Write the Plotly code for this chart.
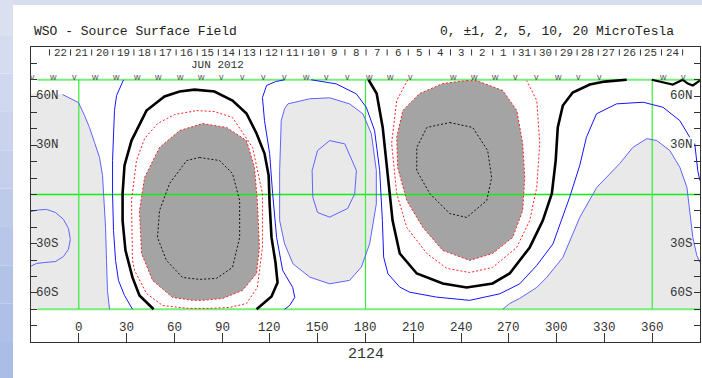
import plotly.graph_objects as go

# ---------------- data (longitude deg, latitude deg) ----------------
title_text = "WSO - Source Surface Field"
levels_text = "0, ±1, 2, 5, 10, 20 MicroTesla"
rotation_label = "2124"
month_label = "JUN 2012"

date_labels = ["22", "21", "20", "19", "18", "17", "16", "15", "14", "13", "12",
               "11", "10", "9", "8", "7", "6", "5", "4", "3", "2", "1",
               "31", "30", "29", "28", "27", "26", "25", "24"]
date_start_lon = -18.4
date_step = 13.25

markers = ["V", "W", "V", "W", "W", "W", "W", "W", "W", "V", "V", "V", "V", "W", "V", "V",
           "W", "W", "V", "", "W", "W", "W", "V", "V", "W", "V", "V", "", "", "W", "V"]
marker_start_lon = -29.1
marker_step = 13.19

lon_ticks = [0, 30, 60, 90, 120, 150, 180, 210, 240, 270, 300, 330, 360]
lat_ticks = [60, 30, -30, -60]
lat_labels = ["60N", "30N", "30S", "60S"]

# light-grey region, left edge
grey_left = [(-30, 61.6), (-10.2, 61.0), (-4.6, 58.5), (-0.2, 56.1), (3.6, 48.2), (6.7, 40.9),
             (9.9, 31.7), (13.0, 22.6), (14.9, 11.6), (15.5, 0.6), (16.8, -20.1), (17.4, -40.3),
             (18.0, -58.5), (19.3, -70), (-30, -70)]
circle_left = [(-30.3, -10.4), (-25.9, -9.5), (-20.3, -9.1), (-14.6, -11.0), (-9.6, -15.2),
               (-6.5, -20.7), (-5.3, -27.4), (-6.5, -33.5), (-9.6, -37.8), (-14.6, -40.9),
               (-21.5, -41.5), (-26.6, -42.1), (-30.3, -43.9)]
# light-grey region, middle
grey_mid = [(131.3, 55.3), (145.0, 58.4), (157.5, 59.0), (170.0, 55.3), (178.4, 49.2),
            (183.7, 37.0), (186.8, 14.6), (186.8, -5.7), (182.6, -30.1), (177.4, -44.3),
            (170.0, -52.4), (157.5, -54.5), (145.0, -50.4), (134.5, -42.3), (129.2, -30.1),
            (126.1, -15.9), (126.1, 14.6), (127.1, 45.1), (129.2, 52.3), (131.3, 55.3)]
oval_mid = [(157.5, 32.9), (167.0, 30.9), (174.3, 14.6), (173.2, 0.4), (168.8, -8.5),
            (157.5, -13.8), (149.9, -11.0), (146.9, -1.6), (146.5, 14.6), (149.9, 26.8),
            (157.5, 32.9)]
# light-grey region, right
grey_right = [(266.2, -70), (270.5, -66.5), (276.8, -63.4), (287.5, -56.7), (293.8, -50.6),
              (303.9, -38.4), (314.5, -14.0), (325.2, 4.3), (339.6, 18.9), (347.8, 28.7),
              (356.6, 34.1), (362.9, 32.9), (371.1, 26.8), (377.4, 16.5), (381.8, 4.3),
              (383.6, -9.8), (385.5, -26.2), (388.0, -37.2), (390, -41.5), (390, -70)]

# blue contours
blue_a = [(28.1, 70), (23.7, 60.4), (22.4, 51.2), (21.8, 39.0), (21.2, 20.7), (21.2, 0.6),
          (21.8, -22.0), (23.1, -40.3), (24.9, -52.4), (28.7, -61.6), (33.7, -70)]
blue_b = [(129.2, 70), (123.5, 68.9), (117.9, 66.5), (115.3, 59.2), (116.6, 45.1), (119.8, 25.0),
          (121.7, 0.6), (124.2, -26.2), (128.0, -46.3), (134.3, -56.7), (135.6, -62.8),
          (132.4, -67.7), (129.2, -70)]
blue_c = [(145.9, 70), (161.7, 67.5), (174.2, 61.4), (180.5, 53.2), (185.7, 39.0), (188.9, 14.6),
          (190.6, -15.9), (191.4, -38.2), (194.1, -48.4), (201.5, -56.5), (207.7, -59.6),
          (224.5, -62.6), (245.4, -64.6), (264.3, -60.6), (276.8, -54.5), (287.5, -43.3),
          (297.7, -30.1), (308.2, -1.6), (314.5, 17.7), (318.7, 34.9), (325.0, 49.2),
          (337.6, 55.3), (354.3, 56.3), (366.8, 53.2), (377.3, 45.1), (383.6, 34.9)]
blue_d = [(386.7, 31.1), (388.6, 14.6), (389.9, 8.5)]

# neutral line (0)
neutral_a = [(47.0, -70), (38.1, -61.6), (33.7, -50.6), (29.3, -34.1), (27.5, -15.9), (27.5, 0.6),
             (28.7, 17.7), (33.1, 32.9), (42.5, 51.2), (53.8, 59.8), (63.3, 62.8), (72.7, 64.0),
             (85.2, 62.8), (96.5, 57.3), (105.3, 49.4), (111.6, 37.2), (116.6, 25.0),
             (119.2, 11.6), (119.8, -5.5), (121.0, -26.2), (123.5, -41.5), (124.8, -53.7),
             (121.0, -62.2), (111.6, -70)]
neutral_b = [(181.9, 70), (187.0, 61.6), (190.8, 40.9), (193.9, 10.4), (197.0, -15.9),
             (201.5, -36.0), (212.2, -48.2), (228.5, -54.3), (243.5, -56.7), (259.8, -54.3),
             (270.5, -48.2), (283.1, -32.3), (291.3, -15.9), (297.0, 0.6), (299.4, 20.7),
             (300.7, 40.9), (303.9, 54.3), (310.1, 62.2), (320.8, 67.1), (330.2, 68.9), (344.0, 70)]
neutral_c = [(359.7, 70), (366.6, 68.3), (372.9, 67.1), (379.2, 70), (382.3, 67.7),
             (385.5, 66.5), (389.9, 69.5)]

# red dotted (outer strong-field) contours
red_a = [(74.0, 51.2), (85.2, 50.6), (96.5, 47.0), (109.1, 28.7), (115.3, 0.6), (115.3, -32.3),
         (112.1, -56.7), (105.3, -66.5), (94.7, -68.9), (82.1, -69.5), (68.3, -69.5),
         (52.6, -67.7), (42.5, -60.4), (35.0, -46.3), (33.7, -40.2), (33.1, -3.7), (36.2, 20.7),
         (41.3, 34.1), (49.5, 43.3), (60.1, 48.8), (74.0, 51.2)]
red_b = [(206.5, 70), (199.6, 57.3), (196.4, 31.1), (199.6, 0.6), (205.9, -20.1), (218.5, -36.0),
         (231.1, -45.1), (245.4, -47.6), (259.8, -44.5), (274.9, -32.3), (283.1, -15.9),
         (287.5, 4.3), (289.4, 31.1), (287.5, 57.3), (281.2, 69.5)]

# dark-grey cores
core_a = [(77.7, 43.3), (92.8, 40.9), (105.3, 32.9), (110.3, 16.5), (112.1, -3.7), (113.4, -32.3),
          (111.6, -48.2), (102.8, -58.5), (90.3, -63.4), (77.7, -64.6), (71.4, -64.6),
          (58.9, -62.8), (46.3, -52.4), (39.4, -36.0), (38.1, -9.8), (41.3, 10.4), (50.7, 28.7),
          (63.3, 39.0), (77.7, 43.3)]
core_b = [(243.5, 69.5), (249.8, 69.5), (266.2, 63.4), (275.0, 51.2), (278.7, 31.1), (280.0, 10.4),
          (278.7, -9.8), (272.4, -26.2), (259.8, -36.0), (245.4, -40.2), (228.5, -34.1),
          (216.0, -20.1), (205.9, -3.7), (200.2, 16.5), (199.6, 34.8), (203.4, 51.2),
          (214.0, 61.6), (228.5, 67.7), (243.5, 69.5)]

# innermost dotted black contours
inner_a = [(75.8, 22.6), (88.4, 20.7), (96.5, 12.8), (101.0, -3.7), (101.0, -26.2), (96.5, -44.5),
           (86.4, -51.2), (75.8, -51.8), (65.1, -50.6), (55.0, -40.2), (49.4, -26.2),
           (50.7, -9.8), (57.0, 6.7), (67.7, 20.7), (75.8, 22.6)]
inner_b = [(232.9, 43.9), (247.3, 40.9), (256.7, 26.8), (259.2, 10.4), (256.1, -3.7),
           (243.5, -14.0), (232.9, -11.6), (220.3, 0.6), (212.2, 14.6), (212.2, 28.7),
           (218.5, 40.9), (232.9, 43.9)]

# ---------------- figure ----------------
LIGHT = "#e9e9e9"
DARK = "#a4a4a4"
BLUE = "#1414ff"
LBLUE = "#6262ff"
GREEN = "#33ee33"
MONO = "Liberation Mono"

fig = go.Figure()


def xs(pts):
    return [p[0] for p in pts]


def ys(pts):
    return [p[1] for p in pts]


def fill(pts, color):
    fig.add_trace(go.Scatter(x=xs(pts), y=ys(pts), mode="lines", fill="toself",
                             fillcolor=color, line=dict(width=0), hoverinfo="skip"))


def line(pts, color, width=1.0, dash="solid"):
    fig.add_trace(go.Scatter(x=xs(pts), y=ys(pts), mode="lines",
                             line=dict(color=color, width=width, dash=dash),
                             hoverinfo="skip"))


fill(grey_left, LIGHT)
fill(grey_mid, LIGHT)
fill(grey_right, LIGHT)
fill(core_a, DARK)
fill(core_b, DARK)

# green reference lines
line([(-26, 70), (390, 70)], "#77ee77", 2)
line([(-26, -70), (390, -70)], "#77ee77", 2)
line([(-30, 0), (390, 0)], "#11ee11", 1.5)
for lon in [0, 180, 360]:
    line([(lon, -70), (lon, 70)], GREEN, 1.2)

# contours
line(grey_left[1:-1], LBLUE, 1)
line(grey_mid, LBLUE, 1)
line(grey_right[:-1], LBLUE, 1)
line(circle_left, LBLUE, 1)
line(oval_mid, LBLUE, 1)
line(blue_a, BLUE, 1)
line(blue_b, BLUE, 1)
line(blue_c, BLUE, 1)
line(blue_d, BLUE, 1)
line(red_a, "#ff2020", 1, "2px,2px")
line(red_b, "#ff2020", 1, "2px,2px")
line(core_a, "#ff2020", 1, "2px,2px")
line(core_b, "#ff2020", 1, "2px,2px")
line(inner_a, "#111111", 1, "2px,2px")
line(inner_b, "#111111", 1, "2px,2px")
line(neutral_a, "black", 2.6)
line(neutral_b, "black", 2.6)
line(neutral_c, "black", 2.2)

# date separator ticks
tx, ty = [], []
for k in range(len(date_labels) + 1):
    lon = date_start_lon + date_step * k
    tx += [lon, lon, None]
    ty += [84.8, 88.6, None]
fig.add_trace(go.Scatter(x=tx, y=ty, mode="lines", line=dict(color="#333", width=1),
                         hoverinfo="skip"))

ann = []


def text(x, y, s, size, xanchor="center", family=MONO, color="#333",
         xref="x", yref="y"):
    ann.append(dict(x=x, y=y, xref=xref, yref=yref, text=s, showarrow=False,
                    xanchor=xanchor, yanchor="middle", borderpad=0, borderwidth=0,
                    font=dict(family=family, size=size, color=color)))


for k, lab in enumerate(date_labels):
    text(date_start_lon + date_step * (k + 0.5), 86.6, lab, 10.8)
text(87.2, 79.0, month_label, 11)
for k, m in enumerate(markers):
    if m:
        text(marker_start_lon + marker_step * k, 71.8, m.lower(), 9,
             family="Liberation Sans", color="#555")
for v in lon_ticks:
    text(v, -81.2, str(v), 12.5)
for v, lab in zip(lat_ticks, lat_labels):
    text(-26.7, v, lab, 12.5, xanchor="left")
    text(385.6, v, lab, 12.5, xanchor="right")

# titles (paper coords relative to plot area)
text(0.004, 1.051, title_text, 13, xanchor="left", xref="paper", yref="paper", color="#222")
text(0.961, 1.051, levels_text, 13, xanchor="right", xref="paper", yref="paper", color="#222")
text(0.5007, -0.042, rotation_label, 15, xref="paper", yref="paper", color="#333")

# page decoration (lavender border strips)
shapes = []
shapes.append(dict(type="rect", xref="paper", yref="paper", x0=-0.05, x1=1.01,
                   y0=1.1424, y1=1.17, fillcolor="#d8def0", line=dict(width=0), layer="below"))
band_cols = ["#dbe0f1", "#d5dcf0", "#cfd8ee", "#c9d3ed", "#c3cfeb", "#bdcaea",
             "#b8c6e9", "#b3c3e8", "#aec0e7", "#a9bde6"]
nb = len(band_cols)
for i, c in enumerate(band_cols):
    top = 1.17 - i * (1.17 + 0.13) / nb
    bot = 1.17 - (i + 1) * (1.17 + 0.13) / nb
    shapes.append(dict(type="rect", xref="paper", yref="paper", x0=-0.05, x1=-0.0269,
                       y0=bot, y1=top, fillcolor=c, line=dict(width=0), layer="below"))

fig.update_layout(
    width=702, height=378,
    margin=dict(l=31, r=2, t=47, b=36, pad=0),
    paper_bgcolor="white", plot_bgcolor="white",
    showlegend=False,
    annotations=ann,
    shapes=shapes,
    xaxis=dict(range=[-30, 390], showgrid=False, zeroline=False, showticklabels=False,
               showline=True, linecolor="#333", linewidth=1, mirror=True,
               ticks="inside", tickvals=lon_ticks, ticklen=9, tickcolor="#333"),
    yaxis=dict(range=[-90, 90], showgrid=False, zeroline=False, showticklabels=False,
               showline=True, linecolor="#333", linewidth=1, mirror="ticks",
               ticks="inside", tick0=0, dtick=10, ticklen=6, tickcolor="#333"),
)

fig.write_html("out.html")
